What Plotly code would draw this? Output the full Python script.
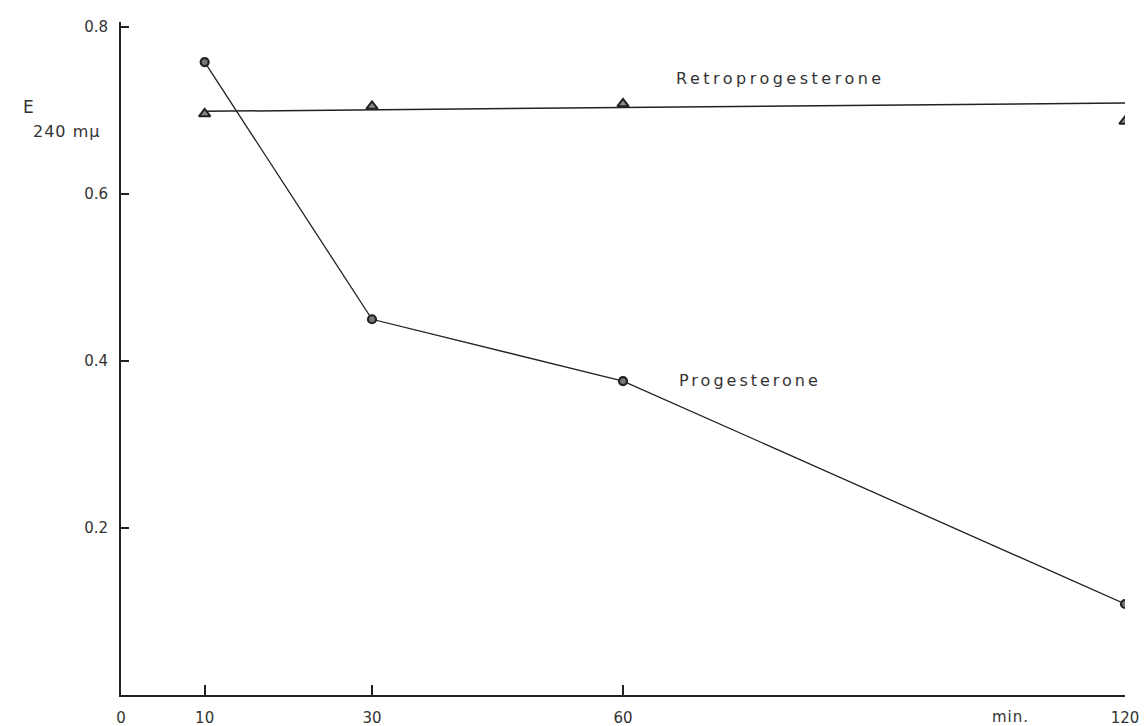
import plotly.graph_objects as go

# Data
time_min = [10, 30, 60, 120]
progesterone = [0.758, 0.450, 0.376, 0.109]
retroprogesterone = [0.696, 0.705, 0.708, 0.687]
retro_fit_x = [10, 120]
retro_fit_y = [0.699, 0.709]

x_ticks = [0, 10, 30, 60, 120]
x_ticklabels = ["0", "10", "30", "60", "120"]
y_ticks = [0.2, 0.4, 0.6, 0.8]
y_ticklabels = ["0.2", "0.4", "0.6", "0.8"]

ink = "#222222"
txt = "#333333"
font_family = "DejaVu Sans, Liberation Sans, sans-serif"

plot_l, plot_r, plot_t, plot_b = 121, 1125, 22, 695
W, H = 1146, 726


def px_to_paper(px, py):
    return ((px - plot_l) / (plot_r - plot_l), (plot_b - py) / (plot_b - plot_t))


fig = go.Figure()

fig.add_trace(go.Scatter(
    x=time_min, y=progesterone, mode="lines+markers",
    line=dict(color=ink, width=1.3),
    marker=dict(symbol="circle", size=8, color="#777777",
                line=dict(color=ink, width=2.2)),
    showlegend=False, name="Progesterone"))

fig.add_trace(go.Scatter(
    x=retro_fit_x, y=retro_fit_y, mode="lines",
    line=dict(color=ink, width=1.5),
    showlegend=False, hoverinfo="skip"))
fig.add_trace(go.Scatter(
    x=time_min, y=retroprogesterone, mode="markers",
    marker=dict(symbol="triangle-up", size=10, color="#888888",
                line=dict(color=ink, width=2)),
    showlegend=False, name="Retroprogesterone"))


def ann(text, px, py, size=16, spacing=0, xanchor="center"):
    x, y = px_to_paper(px, py)
    if spacing:
        text = f'<span style="letter-spacing:{spacing}px">{text}</span>'
    return dict(text=text, x=x, y=y, xref="paper", yref="paper",
                xanchor=xanchor, yanchor="middle", showarrow=False,
                font=dict(size=size, color=txt, family=font_family))


fig.update_layout(
    width=W, height=H,
    margin=dict(l=plot_l, r=W - plot_r, t=plot_t, b=H - plot_b, autoexpand=False),
    paper_bgcolor="white", plot_bgcolor="white",
    font=dict(family=font_family, color=txt, size=16),
    xaxis=dict(
        range=[0, 120], tickvals=x_ticks, ticktext=x_ticklabels,
        showgrid=False, zeroline=False, showline=True,
        linecolor=ink, linewidth=2, ticks="inside", ticklen=10,
        tickwidth=2, tickcolor=ink, ticklabelstandoff=8,
        tickfont=dict(size=15, color=txt)),
    yaxis=dict(
        range=[0, 0.806], tickvals=y_ticks, ticktext=y_ticklabels,
        showgrid=False, zeroline=False, showline=True,
        linecolor=ink, linewidth=2, ticks="inside", ticklen=8,
        tickwidth=2, tickcolor=ink, ticklabelstandoff=8,
        tickfont=dict(size=15, color=txt)),
    annotations=[
        ann("Retroprogesterone", 780, 78, spacing=3.5),
        ann("Progesterone", 750, 380, spacing=3),
        ann("E", 28, 107, size=17),
        ann("240 mμ", 66, 131, size=16, spacing=1),
        ann("min.", 1010, 717, size=15, spacing=1),
    ],
)

fig.write_html("out.html",
               config={"displayModeBar": False},
               post_script="document.body.style.margin='0';document.body.style.overflow='hidden';")
